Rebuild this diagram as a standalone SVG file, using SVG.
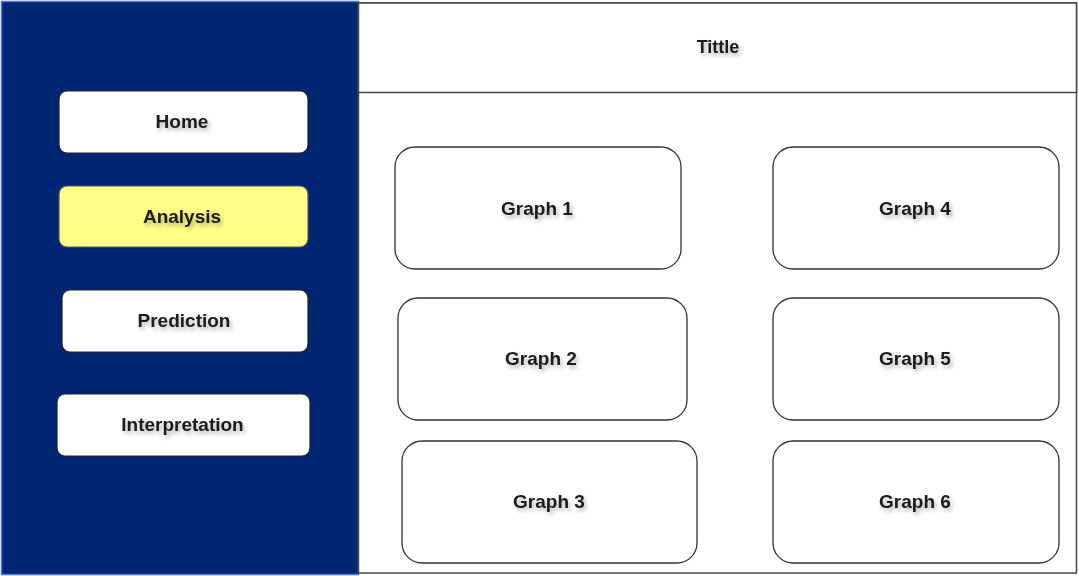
<svg xmlns="http://www.w3.org/2000/svg" width="1079" height="576" viewBox="0 0 1079 576">
<defs>
<filter id="ts" x="-20%" y="-50%" width="140%" height="220%">
<feGaussianBlur in="SourceAlpha" stdDeviation="2"/>
<feOffset dx="2" dy="3" result="b"/>
<feComponentTransfer><feFuncA type="linear" slope="0.3"/></feComponentTransfer>
<feMerge><feMergeNode/><feMergeNode in="SourceGraphic"/></feMerge>
</filter>
</defs>
<style>
.t{font-family:"Liberation Sans",Arial,sans-serif;font-weight:bold;font-size:19px;fill:#1a1a1a;text-anchor:middle;dominant-baseline:central;filter:url(#ts)}
.btn{fill:#fff;stroke:#222;stroke-width:1.2}
.g{fill:#fff;stroke:#333;stroke-width:1.3}
</style>
<rect width="1079" height="576" fill="#fff"/>
<g id="sidebar">
<rect x="1.5" y="1.5" width="357" height="573" fill="#002673" stroke="#5070e8" stroke-width="1.5"/>
</g>
<g id="content">
<rect x="358.5" y="3" width="718" height="570" fill="#fff" stroke="#444" stroke-width="1.5"/>
</g>
<g id="titlebar">
<rect x="358.5" y="3" width="718" height="89.5" fill="#fff" stroke="#444" stroke-width="1.5"/>
<text class="t" x="718" y="47" style="font-size:18px">Tittle</text>
</g>
<g id="home"><rect class="btn" x="59" y="91" width="249" height="62" rx="8"/><text class="t" x="182" y="121">Home</text></g>
<g id="analysis"><rect x="59" y="186" width="249" height="61" rx="8" fill="#ffff88" stroke="#555" stroke-width="1.2"/><text class="t" x="182" y="216">Analysis</text></g>
<g id="prediction"><rect class="btn" x="62" y="290" width="246" height="62" rx="8"/><text class="t" x="184" y="320">Prediction</text></g>
<g id="interpretation"><rect class="btn" x="57" y="394" width="253" height="62" rx="8"/><text class="t" x="182.5" y="424">Interpretation</text></g>
<g id="graph1"><rect class="g" x="395" y="147" width="286" height="122" rx="20"/><text class="t" x="537" y="208">Graph 1</text></g>
<g id="graph2"><rect class="g" x="398" y="298" width="289" height="122" rx="20"/><text class="t" x="541" y="358">Graph 2</text></g>
<g id="graph3"><rect class="g" x="402" y="441" width="295" height="122" rx="20"/><text class="t" x="549" y="501">Graph 3</text></g>
<g id="graph4"><rect class="g" x="773" y="147" width="286" height="122" rx="20"/><text class="t" x="915" y="208">Graph 4</text></g>
<g id="graph5"><rect class="g" x="773" y="298" width="286" height="122" rx="20"/><text class="t" x="915" y="358">Graph 5</text></g>
<g id="graph6"><rect class="g" x="773" y="441" width="286" height="122" rx="20"/><text class="t" x="915" y="501">Graph 6</text></g>
<g id="connectors"></g>
</svg>
